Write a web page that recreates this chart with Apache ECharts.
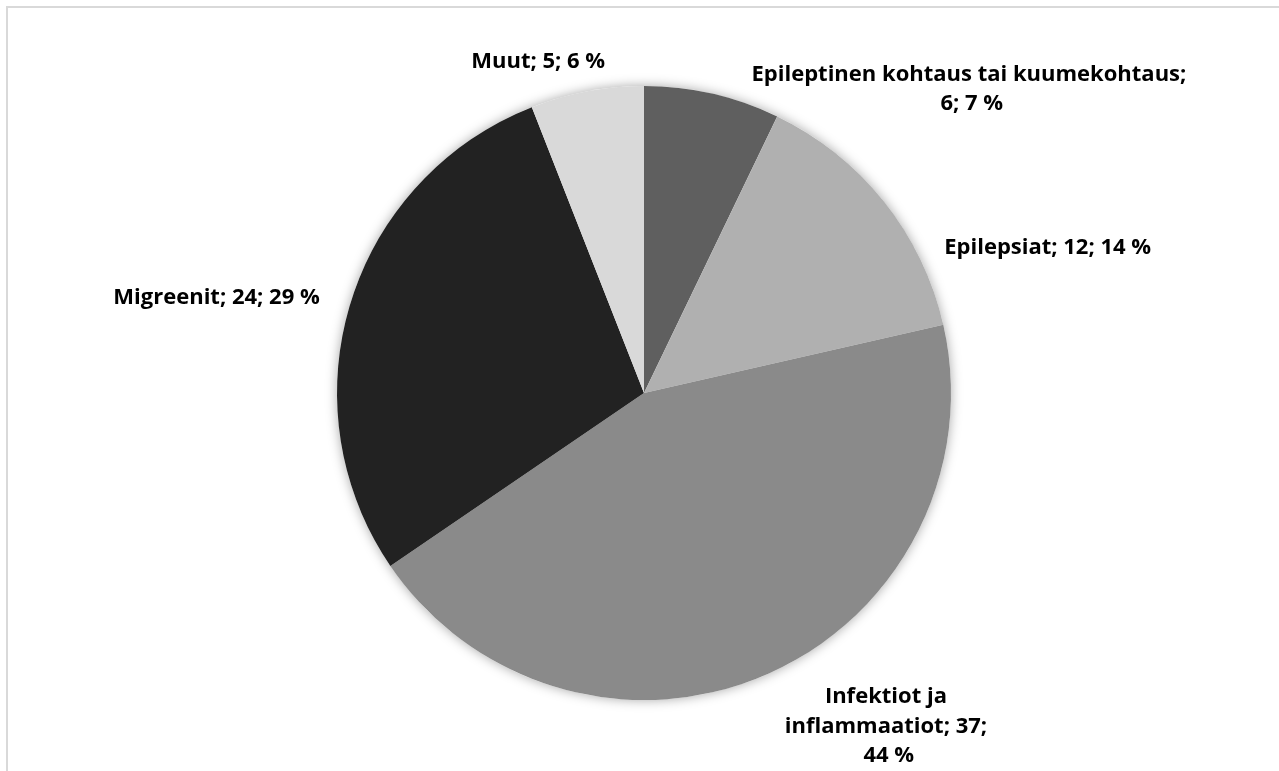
<!DOCTYPE html>
<html>
<head>
<meta charset="utf-8">
<script src="https://cdn.jsdelivr.net/npm/echarts@6/dist/echarts.min.js"></script>
<style>
  html, body { margin: 0; padding: 0; background: #fff; overflow: hidden; }
  #frame { position: absolute; left: 6px; top: 6px; width: 1400px; height: 900px; border: 2px solid #d9d9d9; box-sizing: border-box; }
  #chart { position: absolute; left: 0; top: 0; width: 1279px; height: 771px; }
</style>
</head>
<body>
<div id="frame"></div>
<div id="chart"></div>
<script>
const categories = ['Epileptinen kohtaus tai kuumekohtaus', 'Epilepsiat', 'Infektiot ja inflammaatiot', 'Migreenit', 'Muut']
const values = [6, 12, 37, 24, 5]
const colors = ['#5f5f5f', '#b0b0b0', '#8a8a8a', '#222222', '#d9d9d9']

// label wrap widths and nudges per slice (px)
const labelWidths = [445, 320, 210, 320, 320]
const labelOffsets = [[250, 15], [143, 59], [109, 34], [-110, 1], [-40, -10]]

const chart = echarts.init(document.getElementById('chart'))

const option = {
  animation: false,
  series: [
    {
      // shadow disc behind the pie
      type: 'pie',
      silent: true,
      center: [644, 393],
      radius: [0, 307],
      label: { show: false },
      labelLine: { show: false },
      data: [{ value: 1, itemStyle: { color: '#fff', shadowBlur: 12, shadowColor: 'rgba(0,0,0,0.35)' } }],
      z: 1
    },
    {
      type: 'pie',
      center: [644, 393],
      radius: [0, 307],
      startAngle: 90,
      clockwise: true,
      percentPrecision: 0,
      z: 2,
      label: {
        show: true,
        position: 'outside',
        formatter: '{b}; {c}; {d} %',
        fontFamily: 'Open Sans',
        fontWeight: 'bold',
        fontSize: 22,
        lineHeight: 29.5,
        color: '#000',
        align: 'center',
        overflow: 'break'
      },
      labelLine: { show: false, length: 20, length2: 0 },
      labelLayout: (p) => ({
        align: 'center',
        dx: labelOffsets[p.dataIndex][0],
        dy: labelOffsets[p.dataIndex][1]
      }),
      data: categories.map((name, i) => ({
        name,
        value: values[i],
        itemStyle: { color: colors[i] },
        label: { width: labelWidths[i] }
      }))
    }
  ]
}

chart.setOption(option)
</script>
</body>
</html>
